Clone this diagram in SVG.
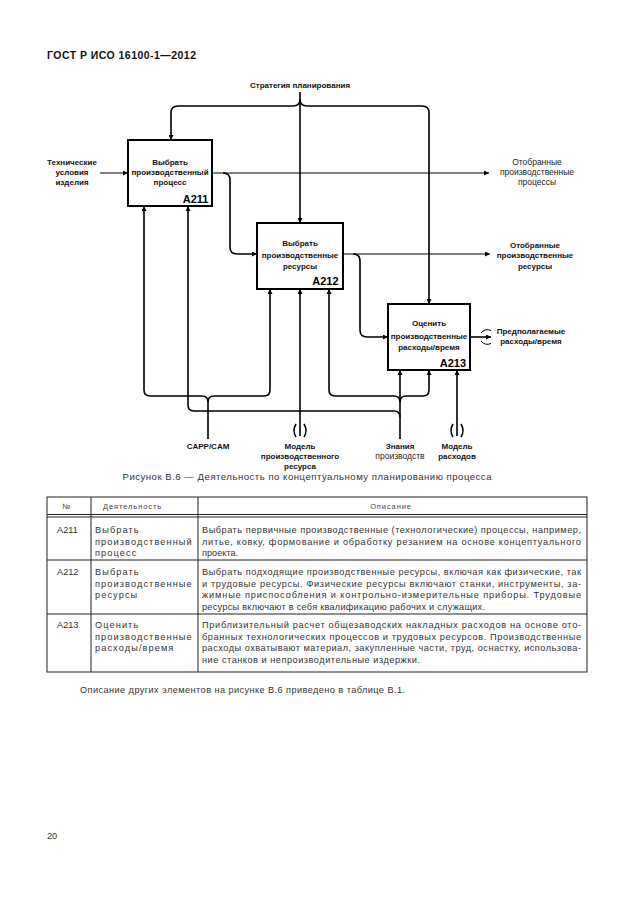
<svg xmlns="http://www.w3.org/2000/svg" width="630" height="913" viewBox="0 0 630 913">
<style>
.bg{fill:#fff}
.box{fill:#fff;stroke:#000;stroke-width:2}
.c{fill:none;stroke:#000;stroke-width:1.6}
.t{fill:none;stroke:#000;stroke-width:1}
.lb{font-family:"Liberation Sans",Arial,sans-serif;font-size:8px;font-weight:bold;fill:#111;text-anchor:middle}
.ln{font-family:"Liberation Sans",Arial,sans-serif;font-size:8.5px;fill:#222;text-anchor:middle}
.id{font-family:"Liberation Sans",Arial,sans-serif;font-size:11px;font-weight:bold;fill:#000;text-anchor:end}
.tb{font-family:"Liberation Sans",Arial,sans-serif;font-size:9.2px;fill:#333}
.c2{letter-spacing:1.1px}
.hd{font-family:"Liberation Sans",Arial,sans-serif;font-size:7.5px;fill:#444;letter-spacing:0.9px}
.tl{stroke:#222;stroke-width:1;fill:none}
</style>
<defs>
<marker id="ah" viewBox="0 0 6 6" refX="6" refY="3" markerWidth="6" markerHeight="5" orient="auto" markerUnits="userSpaceOnUse">
<path d="M0,0 L6,3 L0,6 z" fill="#000"/>
</marker>
</defs>
<rect class="bg" x="0" y="0" width="630" height="913"/>
<text x="47" y="59" font-family="Liberation Sans,Arial,sans-serif" font-size="10.5" font-weight="bold" fill="#111" textLength="149" lengthAdjust="spacing">ГОСТ Р ИСО 16100-1—2012</text>

<g id="connectors">
<path class="c" d="M300,92 V223" marker-end="url(#ah)"/>
<path class="c" d="M300,99 Q300,106 293,106 H178 Q171,106 171,113 V140" marker-end="url(#ah)"/>
<path class="c" d="M300,99 Q300,106 307,106 H422 Q429,106 429,113 V304" marker-end="url(#ah)"/>
<path class="t" d="M100,173 H128" marker-end="url(#ah)"/>
<path class="t" d="M212,173 H489" marker-end="url(#ah)"/>
<path class="c" d="M223,173 Q230,173 230,180 V247 Q230,254 237,254 H257" marker-end="url(#ah)"/>
<path class="t" d="M343,254 H490" marker-end="url(#ah)"/>
<path class="c" d="M353,254 Q360,254 360,261 V330 Q360,337 367,337 H388" marker-end="url(#ah)"/>
<path class="c" d="M470,337 H491" marker-end="url(#ah)"/>
<path class="t" d="M481,333 Q485,328 491,330.5"/>
<path class="t" d="M481,341 Q485,346 491,343.5"/>
<path class="c" d="M208,439 V402 Q208,396 202,396 H150 Q144,396 144,390 V206" marker-end="url(#ah)"/>
<path class="c" d="M208,402 Q208,396 214,396 H264 Q270,396 270,390 V289" marker-end="url(#ah)"/>
<path class="c" d="M400,439 V370" marker-end="url(#ah)"/>
<path class="c" d="M400,417 Q400,411 394,411 H194 Q188,411 188,405 V206" marker-end="url(#ah)"/>
<path class="c" d="M400,402 Q400,396 394,396 H335 Q329,396 329,390 V289" marker-end="url(#ah)"/>
<path class="c" d="M400,402 Q400,396 406,396 H423 Q429,396 429,390 V370" marker-end="url(#ah)"/>
<path class="c" d="M300,436 V289" marker-end="url(#ah)"/>
<path class="c" d="M296,424 Q292,430.5 296,437 M304,424 Q308,430.5 304,437"/>
<path class="c" d="M457,436 V370" marker-end="url(#ah)"/>
<path class="c" d="M453,424 Q449,430.5 453,437 M461,424 Q465,430.5 461,437"/>
</g>

<g id="A211">
<rect class="box" x="128" y="140" width="84" height="66"/>
<text class="lb" x="170" y="164.5">Выбрать</text>
<text class="lb" x="170" y="175">производственный</text>
<text class="lb" x="170" y="185">процесс</text>
<text class="id" x="208.5" y="203">A211</text>
</g>
<g id="A212">
<rect class="box" x="257" y="223" width="86" height="66"/>
<text class="lb" x="300" y="246">Выбрать</text>
<text class="lb" x="300" y="257.5">производственные</text>
<text class="lb" x="300" y="269">ресурсы</text>
<text class="id" x="338.5" y="284.5">A212</text>
</g>
<g id="A213">
<rect class="box" x="388" y="304" width="82" height="66"/>
<text class="lb" x="429" y="326">Оценить</text>
<text class="lb" x="429" y="338.5">производственные</text>
<text class="lb" x="429" y="350">расходы/время</text>
<text class="id" x="466" y="367">A213</text>
</g>

<g id="labels">
<text class="lb" x="300" y="88">Стратегия планирования</text>
<text class="lb" x="72" y="164.5">Технические</text>
<text class="lb" x="72" y="174.5">условия</text>
<text class="lb" x="72" y="184.5">изделия</text>
<text class="ln" x="537" y="165">Отобранные</text>
<text class="ln" x="537" y="175">производственные</text>
<text class="ln" x="537" y="185">процессы</text>
<text class="lb" x="535" y="248">Отобранные</text>
<text class="lb" x="535" y="258">производственные</text>
<text class="lb" x="535" y="269">ресурсы</text>
<text class="lb" x="531" y="334">Предполагаемые</text>
<text class="lb" x="531" y="344">расходы/время</text>
<text class="lb" x="208" y="449">CAPP/CAM</text>
<text class="lb" x="300" y="449">Модель</text>
<text class="lb" x="300" y="459">производственного</text>
<text class="lb" x="300" y="469">ресурса</text>
<text class="lb" x="400" y="449">Знания</text>
<text class="ln" x="400" y="459">производств</text>
<text class="lb" x="457" y="449">Модель</text>
<text class="lb" x="457" y="459">расходов</text>
</g>

<text x="307" y="480" font-family="Liberation Sans,Arial,sans-serif" font-size="9.6" fill="#333" text-anchor="middle" textLength="369" lengthAdjust="spacing">Рисунок В.6 — Деятельность по концептуальному планированию процесса</text>

<g id="table">
<rect class="tl" x="47" y="497" width="540" height="175"/>
<line class="tl" x1="47" y1="514.5" x2="587" y2="514.5"/>
<line class="tl" x1="47" y1="517" x2="587" y2="517"/>
<line class="tl" x1="47" y1="560" x2="587" y2="560"/>
<line class="tl" x1="47" y1="614" x2="587" y2="614"/>
<line class="tl" x1="91" y1="497" x2="91" y2="672"/>
<line class="tl" x1="198" y1="497" x2="198" y2="672"/>
<text class="hd" x="67" y="508.5" text-anchor="middle">№</text>
<text class="hd" x="103" y="508.5">Деятельность</text>
<text class="hd" x="391" y="508.5" text-anchor="middle">Описание</text>

<text class="tb" x="57" y="533">A211</text>
<text class="tb c2" x="95" y="533">Выбрать</text>
<text class="tb c2" x="95" y="544.6">производственный</text>
<text class="tb c2" x="95" y="556.2">процесс</text>
<text class="tb" x="202" y="533" textLength="379" lengthAdjust="spacing">Выбрать первичные производственные (технологические) процессы, например,</text>
<text class="tb" x="202" y="544.6" textLength="379" lengthAdjust="spacing">литье, ковку, формование и обработку резанием на основе концептуального</text>
<text class="tb" x="202" y="556.2">проекта.</text>

<text class="tb" x="57" y="575">A212</text>
<text class="tb c2" x="95" y="575">Выбрать</text>
<text class="tb c2" x="95" y="586.6">производственные</text>
<text class="tb c2" x="95" y="598.2">ресурсы</text>
<text class="tb" x="202" y="575" textLength="379" lengthAdjust="spacing">Выбрать подходящие производственные ресурсы, включая как физические, так</text>
<text class="tb" x="202" y="586.6" textLength="379" lengthAdjust="spacing">и трудовые ресурсы. Физические ресурсы включают станки, инструменты, за-</text>
<text class="tb" x="202" y="598.2" textLength="379" lengthAdjust="spacing">жимные приспособления и контрольно-измерительные приборы. Трудовые</text>
<text class="tb" x="202" y="609.8" textLength="283" lengthAdjust="spacing">ресурсы включают в себя квалификацию рабочих и служащих.</text>

<text class="tb" x="57" y="628">A213</text>
<text class="tb c2" x="95" y="628">Оценить</text>
<text class="tb c2" x="95" y="639.6">производственные</text>
<text class="tb c2" x="95" y="651.2">расходы/время</text>
<text class="tb" x="202" y="628" textLength="379" lengthAdjust="spacing">Приблизительный расчет общезаводских накладных расходов на основе ото-</text>
<text class="tb" x="202" y="639.6" textLength="379" lengthAdjust="spacing">бранных технологических процессов и трудовых ресурсов. Производственные</text>
<text class="tb" x="202" y="651.2" textLength="379" lengthAdjust="spacing">расходы охватывают материал, закупленные части, труд, оснастку, использова-</text>
<text class="tb" x="202" y="662.8" textLength="218" lengthAdjust="spacing">ние станков и непроизводительные издержки.</text>
</g>

<text class="tb" x="80" y="693" textLength="325" lengthAdjust="spacing">Описание других элементов на рисунке В.6 приведено в таблице В.1.</text>
<text class="tb" x="47" y="839">20</text>
</svg>
